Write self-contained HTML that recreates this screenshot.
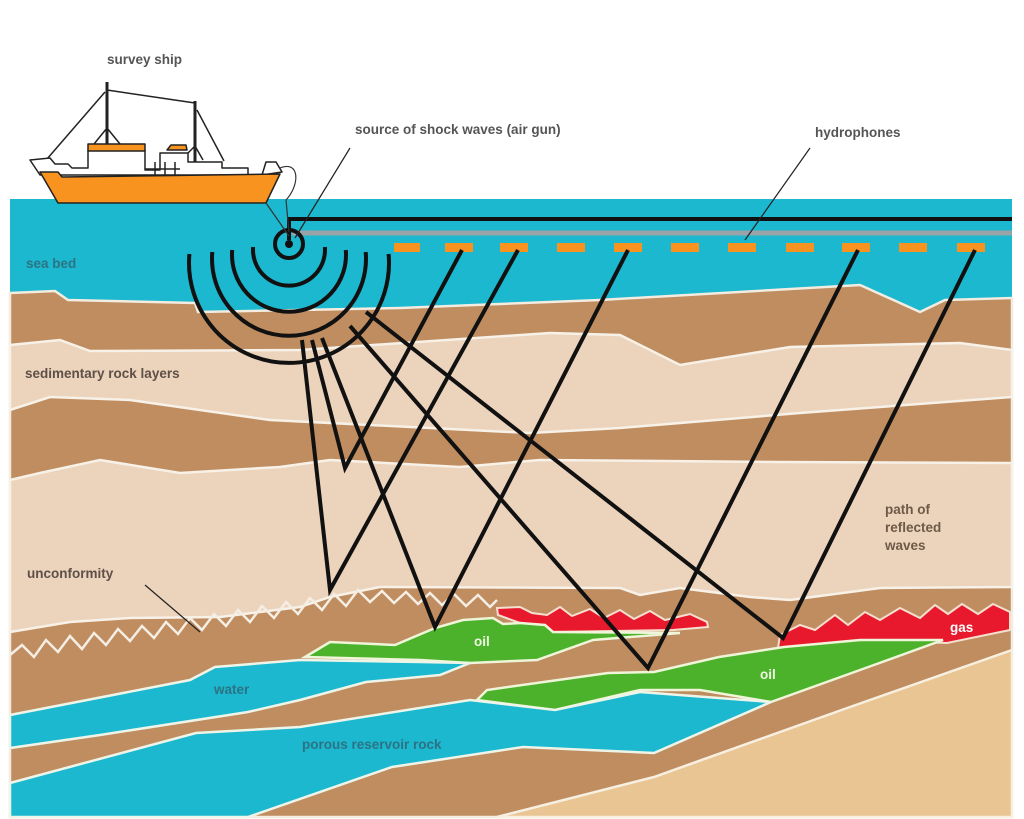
<!DOCTYPE html>
<html><head><meta charset="utf-8"><style>
html,body{margin:0;padding:0;background:#fff;}
svg{display:block;}
text{font-family:"Liberation Sans",Arial,sans-serif;font-weight:bold;font-size:13.5px;}
</style></head><body>
<svg width="1024" height="819" viewBox="0 0 1024 819" xmlns="http://www.w3.org/2000/svg">
<rect width="1024" height="819" fill="#fff"/>
<!-- water -->
<rect x="10" y="199" width="1002" height="130" fill="#1bb8cf"/>
<!-- brown base rock -->
<polygon points="10,293 55,291 68,300 195,303 198,312 400,308 600,300 860,285 920,312 945,300 1012,298 1012,817 10,817" fill="#bf8d60" stroke="#f3ece0" stroke-width="2.5"/>
<!-- light band A -->
<polygon points="10,345 60,340 90,351 300,350 550,333 620,335 680,365 790,347 960,343 1012,350 1012,397 800,413 620,428 530,433 270,420 130,400 50,397 10,410" fill="#ecd3bb" stroke="#f7f1e8" stroke-width="2.5"/>
<!-- light band B -->
<polygon points="10,480 40,473 100,460 180,473 280,467 330,460 460,467 540,460 780,462 1012,463 1012,587 880,588 790,600 750,597 680,588 640,595 620,588 380,587 330,597 300,607 220,617 130,618 70,622 10,632" fill="#ecd3bb" stroke="#f7f1e8" stroke-width="2.5"/>
<!-- unconformity zigzag -->
<polyline points="10,655 22,645 34,657 46,640 58,652 70,636 82,649 94,633 106,645 118,629 130,641 142,626 154,638 166,622 178,634 190,618 202,630 214,614 226,626 238,610 250,622 262,606 274,618 286,602 298,614 310,598 322,610 334,594 346,606 358,590 370,602 382,591 394,603 406,592 418,604 430,593 442,605 454,594 466,606 478,595 490,607 497,600" fill="none" stroke="#f5eee4" stroke-width="2.5"/>
<!-- gas 1 -->
<polygon points="497,608 520,607 532,613 547,615 560,607 572,616 590,609 604,618 620,610 634,619 650,611 665,620 690,614 707,622 708,627 673,630 553,632 545,625 520,623 498,615" fill="#e8192c" stroke="#f5e0d0" stroke-width="2"/>
<!-- gas 2 -->
<polygon points="778,648 780,635 800,625 815,630 835,615 848,625 865,612 880,620 900,608 920,618 935,605 948,614 962,604 978,614 993,604 1010,612 1010,630 947,643 860,640 840,647" fill="#e8192c" stroke="#f5e0d0" stroke-width="2"/>
<!-- oil 1 -->
<polygon points="305,657 330,642 395,645 435,628 463,620 493,618 503,624 520,623 545,625 553,632 680,633 593,640 537,660 470,663 420,660" fill="#4db22b" stroke="#eef5d8" stroke-width="2.5"/>
<!-- oil 2 -->
<polygon points="477,700 487,690 608,673 654,672 719,657 784,647 860,640 943,640 860,670 771,702 700,690 640,690 555,710" fill="#4db22b" stroke="#eef5d8" stroke-width="2.5"/>
<!-- water 1 -->
<polygon points="10,715 190,680 215,667 300,660 420,662 470,663 440,675 366,682 300,700 248,712 100,735 10,748" fill="#1bb8cf" stroke="#eef5e8" stroke-width="2.5"/>
<!-- water 2 -->
<polygon points="10,783 196,733 300,727 470,700 555,710 640,692 771,702 654,753 523,747 392,767 248,817 10,817" fill="#1bb8cf" stroke="#eef5e8" stroke-width="2.5"/>
<!-- sand -->
<polygon points="497,817 654,777 850,707 1012,650 1012,817" fill="#eac594" stroke="#f7efe0" stroke-width="2.5"/>

<!-- cable -->
<polyline points="289,240 289,219 1012,219" fill="none" stroke="#111" stroke-width="4"/>
<line x1="292" y1="233" x2="1012" y2="233" stroke="#9aa3a8" stroke-width="5"/>
<g fill="#f7931e">
<rect x="394" y="243" width="26" height="9"/><rect x="445" y="243" width="28" height="9"/><rect x="500" y="243" width="28" height="9"/><rect x="557" y="243" width="28" height="9"/><rect x="614" y="243" width="28" height="9"/><rect x="671" y="243" width="28" height="9"/><rect x="728" y="243" width="28" height="9"/><rect x="786" y="243" width="28" height="9"/><rect x="842" y="243" width="28" height="9"/><rect x="899" y="243" width="28" height="9"/><rect x="957" y="243" width="28" height="9"/>
</g>
<!-- shock waves -->
<g fill="none" stroke="#111" stroke-width="4">
<circle cx="289" cy="244" r="14"/>
<path d="M253.1,247 A36,36 0 1 0 324.9,247"/>
<path d="M232.2,250 A57,57 0 1 0 345.8,250"/>
<path d="M212.3,252 A77,77 0 1 0 365.7,252"/>
<path d="M189.4,254 A100,100 0 1 0 388.6,254"/>
</g>
<circle cx="289" cy="244" r="4" fill="#111"/>
<!-- rays -->
<g fill="none" stroke="#111" stroke-width="4" stroke-linejoin="miter">
<polyline points="312,340 345,468 462,250"/>
<polyline points="302,340 330,590 518,250"/>
<polyline points="322,338 435,627 628,250"/>
<polyline points="350,326 648,668 858,250"/>
<polyline points="366,312 783,638 975,250"/>
</g>

<!-- ship -->
<g stroke="#222" stroke-width="1.5" stroke-linejoin="round">
<line x1="107" y1="82" x2="107" y2="145" stroke-width="3"/>
<line x1="195" y1="101" x2="195" y2="163" stroke-width="3"/>
<polyline points="107,90 195,103" fill="none"/>
<polyline points="47,159 105,92" fill="none"/>
<polyline points="197,110 224,161" fill="none"/>
<polyline points="94,144 107,128 120,144" fill="none"/>
<polyline points="187,154 195,146 203,160" fill="none"/>
<polygon points="30,160 50,158 55,164 68,164 72,168 88,168 88,150 145,150 145,170 160,170 160,153 188,153 188,162 222,162 222,168 248,168 248,175 40,175" fill="#fff"/>
<rect x="88" y="144" width="57" height="7" fill="#f7931e"/>
<polygon points="167,150 171,145 186,145 187,150" fill="#f7931e"/>
<line x1="145" y1="169" x2="180" y2="169"/>
<line x1="155" y1="162" x2="155" y2="175"/><line x1="165" y1="162" x2="165" y2="175"/><line x1="175" y1="162" x2="175" y2="175"/>
<polygon points="262,175 266,162 276,162 282,172" fill="#fff"/>
<polygon points="40,172 58,172 62,177 280,174 266,203 58,203" fill="#f7931e"/>
</g>
<path d="M280,168 C300,160 300,185 286,200 L289,232" fill="none" stroke="#333" stroke-width="1.2"/>
<line x1="266" y1="203" x2="289" y2="236" stroke="#333" stroke-width="1.2"/>

<!-- leader lines -->
<g stroke="#222" stroke-width="1.2">
<line x1="350" y1="148" x2="295" y2="238"/>
<line x1="810" y1="148" x2="745" y2="240"/>
<line x1="145" y1="585" x2="200" y2="632"/>
</g>

<!-- labels -->
<g fill="#555">
<text x="107" y="64">survey ship</text>
<text x="355" y="134">source of shock waves (air gun)</text>
<text x="815" y="137">hydrophones</text>
<text x="25" y="378" fill="#5e5048">sedimentary rock layers</text>
<text x="27" y="578" fill="#5e5048">unconformity</text>
<text x="885" y="514" fill="#6e5a48">path of</text>
<text x="885" y="532" fill="#6e5a48">reflected</text>
<text x="885" y="550" fill="#6e5a48">waves</text>
</g>
<text x="26" y="268" fill="#2c7384" font-weight="normal">sea bed</text>
<text x="214" y="694" fill="#2c7384">water</text>
<text x="302" y="749" fill="#2c7384">porous reservoir rock</text>
<text x="474" y="646" fill="#eef8e0">oil</text>
<text x="760" y="679" fill="#eef8e0">oil</text>
<text x="950" y="632" fill="#fff">gas</text>
</svg>
</body></html>
